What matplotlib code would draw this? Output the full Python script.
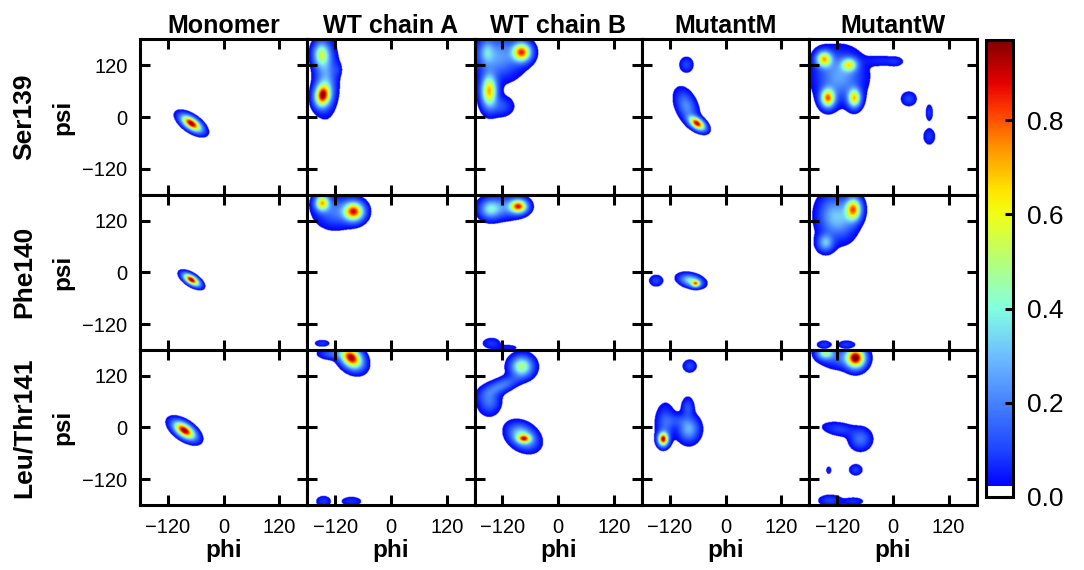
import numpy as np
import matplotlib
matplotlib.use("Agg")
from matplotlib import pyplot as plt
from matplotlib.colors import LinearSegmentedColormap

plt.rcParams['font.family'] = ['Liberation Sans', 'DejaVu Sans']

columns = ["Monomer", "WT chain A", "WT chain B", "MutantM", "MutantW"]
residues = ["Ser139", "Phe140", "Leu/Thr141"]
angle_ticks = [-120, 0, 120]
cbar_ticks = [0.0, 0.2, 0.4, 0.6, 0.8]

# population peaks per panel: (phi, psi, sigma_phi, sigma_psi, rho, height)
ser139_monomer = [(-70, -15, 14, 12, -0.6, 0.97)]
ser139_wt_a = [(-147, 50, 11, 17, 0.1, 0.85), (-150, 145, 11, 18, 0.0, 0.45),
               (-140, 95, 14, 45, 0.0, 0.25), (-115, 110, 6, 10, 0.0, 0.05)]
ser139_wt_b = [(-80, 150, 13, 14, 0.0, 0.8), (-150, 60, 11, 24, 0.0, 0.7),
               (-130, 140, 30, 30, 0.0, 0.25), (-155, 150, 10, 18, 0.0, 0.2),
               (-125, 25, 16, 14, 0.0, 0.12)]
ser139_mut_m = [(-62, -15, 11, 10, -0.5, 0.9), (-85, 25, 14, 22, -0.4, 0.22),
                (-85, 121, 9, 11, 0.0, 0.1)]
ser139_mut_w = [(-148, 134, 11, 12, 0.0, 0.65), (-94, 121, 11, 10, 0.0, 0.5),
                (-140, 44, 10, 14, 0.0, 0.75), (-83, 44, 9, 14, 0.0, 0.65),
                (-115, 95, 30, 34, 0.0, 0.26), (-25, 130, 25, 8, 0.0, 0.06),
                (5, 128, 10, 7, 0.0, 0.05), (34, 42, 10, 10, 0.0, 0.1),
                (78, 10, 5, 12, 0.0, 0.08), (78, -45, 8, 12, 0.0, 0.08)]

phe140_monomer = [(-70, -18, 11, 9, -0.6, 0.97)]
phe140_wt_a = [(-80, 140, 14, 14, 0.0, 0.85), (-148, 160, 10, 12, 0.0, 0.65),
               (-120, 140, 25, 22, 0.0, 0.18), (-148, -165, 10, 5, 0.0, 0.08)]
phe140_wt_b = [(-87, 152, 12, 10, 0.0, 0.8), (-148, 145, 14, 14, 0.0, 0.3),
               (-120, 150, 25, 16, 0.0, 0.2), (-145, -165, 12, 8, 0.0, 0.08),
               (-110, -175, 15, 5, 0.0, 0.05)]
phe140_mut_m = [(-65, -27, 6, 5, 0.0, 0.55), (-75, -20, 15, 9, -0.3, 0.4),
                (-150, -20, 9, 8, 0.0, 0.1)]
phe140_mut_w = [(-85, 145, 11, 17, 0.0, 0.75), (-145, 68, 11, 13, 0.0, 0.3),
                (-130, 130, 20, 30, 0.0, 0.25), (-105, 120, 18, 28, 0.0, 0.15),
                (-148, -168, 10, 6, 0.0, 0.08), (-100, -168, 12, 6, 0.0, 0.08)]

leu141_monomer = [(-85, -8, 15, 13, -0.55, 0.97)]
leu141_wt_a = [(-85, 160, 15, 16, -0.3, 0.95), (-125, 170, 18, 8, 0.0, 0.15),
               (-145, -172, 10, 8, 0.0, 0.08), (-85, -172, 14, 7, 0.0, 0.07)]
leu141_wt_b = [(-80, 140, 15, 15, 0.0, 0.5), (-125, 95, 25, 15, 0.7, 0.2),
               (-150, 60, 14, 18, 0.0, 0.18), (-75, -27, 9, 6, 0.0, 0.5),
               (-78, -22, 18, 17, -0.3, 0.45)]
leu141_mut_m = [(-135, -28, 7, 10, 0.0, 0.9), (-130, 8, 12, 25, 0.0, 0.15),
                (-80, -5, 14, 18, 0.0, 0.28), (-82, 45, 8, 14, 0.0, 0.12),
                (-105, 15, 16, 10, 0.0, 0.08), (-78, 141, 9, 9, 0.0, 0.1)]
leu141_mut_w = [(-80, 160, 13, 15, 0.0, 0.95), (-145, 172, 12, 10, 0.0, 0.45),
                (-110, 160, 25, 15, 0.0, 0.15), (-115, -5, 22, 10, -0.3, 0.1),
                (-70, -28, 14, 15, 0.0, 0.17), (-138, -100, 4, 6, 0.0, 0.06),
                (-80, -99, 9, 8, 0.0, 0.09), (-135, -170, 15, 8, 0.0, 0.1),
                (-85, -172, 14, 6, 0.0, 0.07)]

panels = [
    [ser139_monomer, ser139_wt_a, ser139_wt_b, ser139_mut_m, ser139_mut_w],
    [phe140_monomer, phe140_wt_a, phe140_wt_b, phe140_mut_m, phe140_mut_w],
    [leu141_monomer, leu141_wt_a, leu141_wt_b, leu141_mut_m, leu141_mut_w],
]

VMAX = 0.97
grid = np.linspace(-180, 180, 361)
PHI, PSI = np.meshgrid(grid, grid)


def density(peaks):
    z = np.zeros_like(PHI)
    for x0, y0, sx, sy, rho, h in peaks:
        dx = (PHI - x0) / sx
        dy = (PSI - y0) / sy
        q = (dx * dx - 2 * rho * dx * dy + dy * dy) / (1 - rho ** 2)
        z += h * np.exp(-q / 2)
    return np.clip(z, 0, VMAX)


# jet-like map, white for empty bins
stops = [(0.0, "#ffffff"), (0.02, "#ffffff"), (0.021, "#0000ff"),
         (0.10, "#1e46ff"), (0.20, "#4682ff"), (0.30, "#6ebeff"),
         (0.40, "#82ffe1"), (0.50, "#b4ff78"), (0.60, "#f0ff14"),
         (0.65, "#ffe600"), (0.75, "#ff8c00"), (0.82, "#ff3c00"),
         (0.88, "#e60000"), (0.97, "#820000")]
cmap = LinearSegmentedColormap.from_list(
    "rama", [(v / VMAX, c) for v, c in stops])

W, H = 1084, 570
fig = plt.figure(figsize=(W / 100, H / 100), dpi=100)

x0, cw = 140, 167.3
y0, rh = 39.5, 155.2
lw = 2.2

for r in range(3):
    for c in range(5):
        ax = fig.add_axes([(x0 + cw * c) / W, 1 - (y0 + rh * (r + 1)) / H,
                           cw / W, rh / H])
        im = ax.imshow(density(panels[r][c]), extent=[-180, 180, -180, 180],
                       origin="lower", cmap=cmap, vmin=0, vmax=VMAX,
                       aspect="auto", interpolation="bilinear")
        ax.set_xlim(-180, 180)
        ax.set_ylim(-180, 180)
        ax.set_xticks(angle_ticks)
        ax.set_yticks(angle_ticks)
        ax.tick_params(direction="in", length=7, width=lw, top=True,
                       right=True, labelsize=14.5)
        ax.tick_params(axis="x", pad=9)
        ax.tick_params(axis="y", pad=9)
        for s in ax.spines.values():
            s.set_linewidth(lw)
        if c > 0:
            ax.set_yticklabels([])
        if r < 2:
            ax.set_xticklabels([])
        else:
            ax.set_xlabel("phi", fontsize=17.5, fontweight="bold", labelpad=2)
        if r == 0:
            ax.set_title(columns[c], fontsize=18, fontweight="bold", pad=5)
    fig.text(24 / W, 1 - (y0 + rh * (r + 0.5)) / H, residues[r],
             rotation=90, ha="center", va="center", fontsize=19,
             fontweight="bold")
    fig.text(63 / W, 1 - (y0 + rh * (r + 0.5)) / H, "psi",
             rotation=90, ha="center", va="center", fontsize=17.5,
             fontweight="bold")

cax = fig.add_axes([986 / W, 1 - 497 / H, 27 / W, 457 / H])
cb = fig.colorbar(im, cax=cax, ticks=cbar_ticks)
cb.ax.set_yticklabels(["%.1f" % t for t in cbar_ticks])
cb.ax.tick_params(direction="in", length=6, width=lw, labelsize=19, pad=10)
cb.outline.set_linewidth(lw)

fig.savefig("out.png", dpi=100)
